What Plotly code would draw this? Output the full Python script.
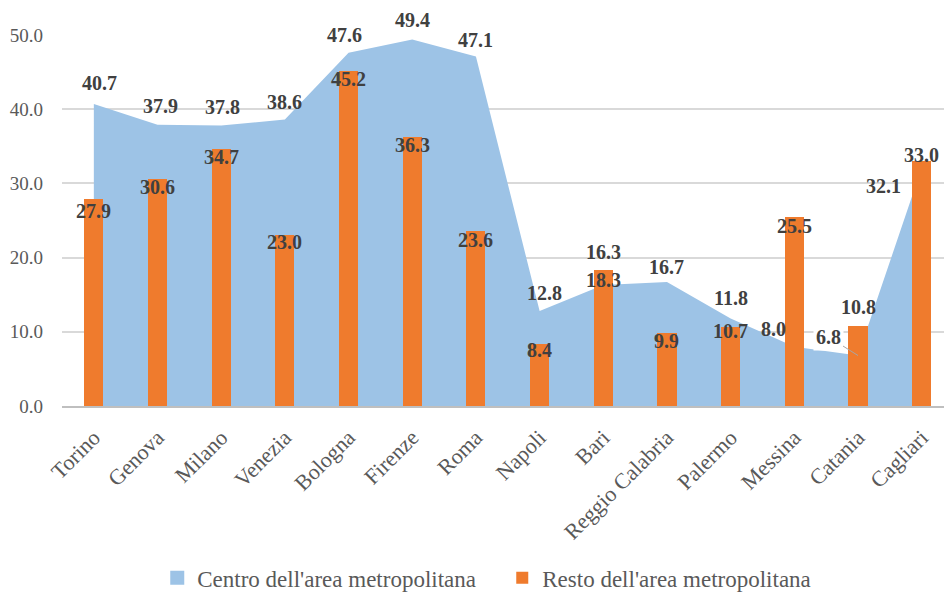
import plotly.graph_objects as go

cities = ["Torino", "Genova", "Milano", "Venezia", "Bologna", "Firenze", "Roma",
          "Napoli", "Bari", "Reggio Calabria", "Palermo", "Messina", "Catania", "Cagliari"]
centro = [40.7, 37.9, 37.8, 38.6, 47.6, 49.4, 47.1, 12.8, 16.3, 16.7, 11.8, 8.0, 6.8, 32.1]
resto = [27.9, 30.6, 34.7, 23.0, 45.2, 36.3, 23.6, 8.4, 18.3, 9.9, 10.7, 25.5, 10.8, 33.0]
y_ticks = [0, 10, 20, 30, 40, 50]

# label nudges in pixels (x right, y up), as Excel placed them
centro_shift = [(6, 21), (3, 19), (1, 19), (0, 18), (-4, 18), (0, 19), (0, 17),
                (5, 18), (0, 33), (0, 15), (0, 20), (-21, 18), (0, 0), (-36, -18)]
resto_shift = [-12, -8, -8, -7, -8, -8, -9, -6, -10, -8, -4, -9, 19, 6]

FONT = "Liberation Serif"
BLUE = "#9DC3E6"
ORANGE = "#EF7B2D"
LABEL = "#404040"
GREY = "#595959"

fig = go.Figure()
fig.add_trace(go.Scatter(
    x=cities, y=centro, mode="lines", fill="tozeroy",
    fillcolor=BLUE, line=dict(width=0, color=BLUE),
    name="Centro dell'area metropolitana", hoverinfo="x+y", showlegend=False,
))
# legend-only entry so the area gets a square swatch like Excel
fig.add_trace(go.Scatter(
    x=[None], y=[None], mode="markers",
    marker=dict(symbol="square", size=14, color=BLUE),
    name="Centro dell'area metropolitana",
))
# bars sit on an overlay subplot so they are drawn above the area
fig.add_trace(go.Bar(
    x=cities, y=resto, width=0.3, marker=dict(color=ORANGE, line=dict(width=0)),
    name="Resto dell'area metropolitana", xaxis="x2", yaxis="y2",
))

annotations = []
for i, city in enumerate(cities):
    dx, dy = centro_shift[i]
    ann = dict(x=city, y=centro[i], xref="x", yref="y", text=f"{centro[i]:.1f}",
               showarrow=False, xshift=dx, yshift=dy,
               font=dict(family=FONT, size=20, color=LABEL, weight="bold"))
    if city == "Catania":
        ann.update(showarrow=True, ax=-30, ay=-19, arrowhead=0, arrowwidth=1,
                   arrowcolor="#A6A6A6", bgcolor="white", borderpad=2,
                   xshift=0, yshift=0)
    if city == "Cagliari":
        ann.update(xanchor="right", xshift=-19)
    annotations.append(ann)
    annotations.append(dict(
        x=city, y=resto[i], xref="x", yref="y", text=f"{resto[i]:.1f}",
        showarrow=False, yshift=resto_shift[i],
        font=dict(family=FONT, size=20, color=LABEL, weight="bold"),
    ))

fig.update_layout(
    width=944, height=592,
    margin=dict(l=62, r=0, t=35, b=186),
    paper_bgcolor="white", plot_bgcolor="white",
    font=dict(family=FONT, color=GREY),
    bargap=0,
    xaxis=dict(
        type="category", categoryarray=cities, range=[-0.5, 13.35],
        showgrid=False, showline=True, linecolor="#BFBFBF", linewidth=2,
        ticks="", tickangle=-45, ticklabelstandoff=8, automargin=False,
        tickfont=dict(family=FONT, size=22, color=GREY),
    ),
    yaxis=dict(
        range=[0, 50], tickvals=y_ticks, tickformat=".1f",
        showgrid=True, gridcolor="#D9D9D9", gridwidth=1.5,
        zeroline=False, showline=False, ticks="", ticklabelstandoff=18,
        automargin=False,
        tickfont=dict(family=FONT, size=19, color=GREY),
    ),
    xaxis2=dict(
        type="category", categoryarray=cities, range=[-0.5, 13.35],
        overlaying="x", visible=False, automargin=False,
    ),
    yaxis2=dict(range=[0, 50], overlaying="y", visible=False, automargin=False),
    legend=dict(
        orientation="h", x=0.108, xanchor="left",
        yref="container", y=0.024, yanchor="middle",
        font=dict(family=FONT, size=23, color=GREY),
        itemwidth=30, traceorder="normal", entrywidth=300,
    ),
    annotations=annotations,
    showlegend=True,
)

# drop the default body margin so the chart sits at the window's corner
fig.write_html("out.html", config={"displayModeBar": False},
               post_script="document.body.style.margin='0';")
